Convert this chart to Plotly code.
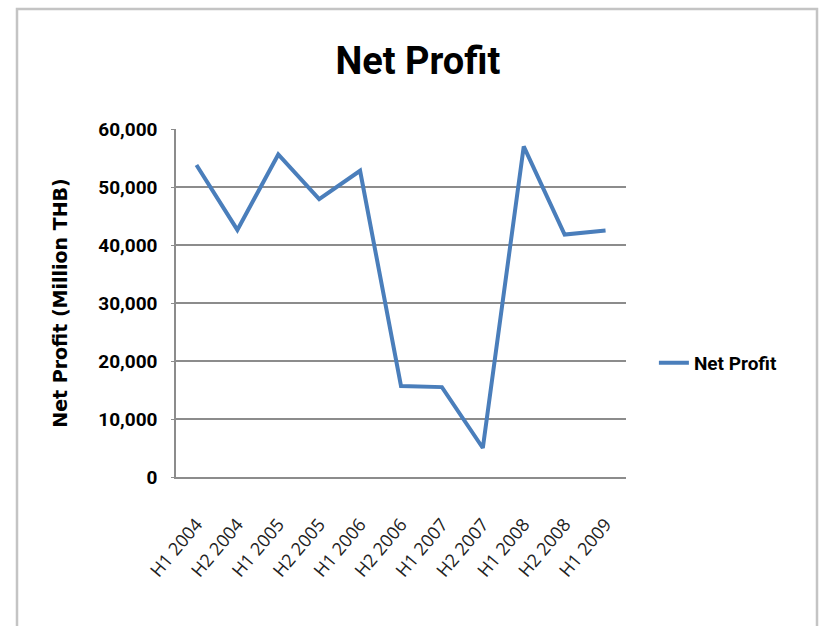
import plotly.graph_objects as go

# Half-year periods and net profit (Million THB)
periods = ["H1 2004", "H2 2004", "H1 2005", "H2 2005", "H1 2006", "H2 2006",
           "H1 2007", "H2 2007", "H1 2008", "H2 2008", "H1 2009"]
net_profit = [53800, 42600, 55600, 47900, 52800, 15700,
              15500, 5000, 57000, 41800, 42500]
y_ticks = [0, 10000, 20000, 30000, 40000, 50000, 60000]
y_tick_labels = ["0", "10,000", "20,000", "30,000", "40,000", "50,000", "60,000"]

NARROW = "Roboto, sans-serif"
LINE_BLUE = "#4a7ebb"
GRID = "#8c8c8c"

fig = go.Figure()
fig.add_trace(go.Scatter(
    x=periods, y=net_profit, mode="lines", name="Net Profit",
    line=dict(color=LINE_BLUE, width=4),
))

fig.update_layout(
    width=821, height=626,
    margin=dict(l=176, r=195, t=129, b=149),
    paper_bgcolor="white", plot_bgcolor="white",
    title=dict(text="<b>Net Profit</b>", x=0.509, xanchor="center",
               y=0.903, yanchor="middle",
               font=dict(family=NARROW, size=38, color="black")),
    showlegend=True,
    legend=dict(x=1.062, xanchor="left", y=0.328, yanchor="middle",
                font=dict(family=NARROW, size=19, color="black", weight="bold"),
                bgcolor="rgba(0,0,0,0)", borderwidth=0),
    xaxis=dict(
        type="category", range=[-0.5, 10.5],
        showgrid=False, showline=True, linecolor=GRID, linewidth=1.5,
        ticks="outside", ticklen=28, tickcolor="rgba(0,0,0,0)",
        tickangle=-50,
        tickfont=dict(family="Open Sans, sans-serif", size=18, color="#222"),
    ),
    yaxis=dict(
        range=[0, 60000], tickvals=y_ticks, ticktext=y_tick_labels,
        showgrid=True, gridcolor=GRID, gridwidth=1.5,
        showline=True, linecolor=GRID, linewidth=1.5,
        ticks="outside", ticklen=3, tickcolor=GRID,
        ticklabelstandoff=10,
        zeroline=False,
        tickfont=dict(family=NARROW, size=19, color="black", weight="bold"),
        title=dict(text="<b>Net Profit (Million THB)</b>", standoff=26,
                   font=dict(family="DejaVu Sans, sans-serif", size=19,
                             color="black")),
    ),
)

# Outer chart frame
fig.add_shape(type="rect", xref="paper", yref="paper",
              x0=(17 - 176) / 450, x1=(817 - 176) / 450,
              y0=(477 - 640) / 348, y1=(477 - 9) / 348,
              line=dict(color="#c4c4c4", width=2.5), layer="below")

fig.write_html("out.html")
